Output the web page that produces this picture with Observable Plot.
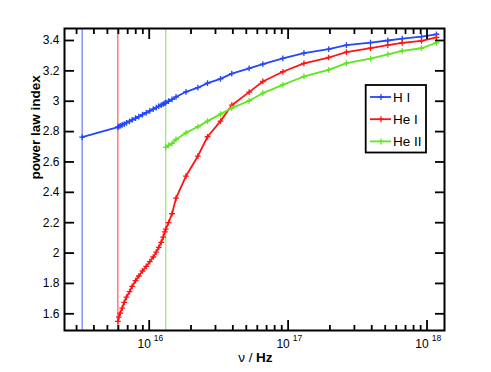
<!DOCTYPE html>
<html><head><meta charset="utf-8">
<script src="https://cdn.jsdelivr.net/npm/d3@7"></script>
<script src="https://cdn.jsdelivr.net/npm/@observablehq/plot@0.6"></script>
<style>body{margin:0;background:#fff;} #chart{width:491px;height:372px;}</style>
</head><body><div id="chart"></div>
<script>
const seriesNames = ["H I", "He I", "He II"];
const seriesColors = ["#2346ff", "#ff1414", "#5ee61e"];
const edgeFreq = [3.29e15, 5.95e15, 1.316e16];

const hiFreq = [3.29e15, 5.95e15, 6.04e15, 6.18e15, 6.39e15, 6.61e15, 6.86e15, 7.22e15, 7.54e15, 7.97e15, 8.42e15,
  8.95e15, 9.52e15, 1.01e16, 1.069e16, 1.123e16, 1.172e16, 1.22e16, 1.261e16, 1.295e16, 1.316e16, 1.377e16,
  1.46e16, 1.56e16, 1.84e16, 2.24e16, 2.63e16, 3.26e16, 3.93e16, 5.24e16, 6.58e16, 9.16e16, 1.30e17, 1.96e17,
  2.63e17, 3.92e17, 5.22e17, 6.63e17, 9.12e17, 1.17e18];
const hiIndex = [2.764, 2.829, 2.832, 2.837, 2.844, 2.850, 2.858, 2.868, 2.877, 2.888, 2.899,
  2.912, 2.924, 2.936, 2.948, 2.958, 2.967, 2.975, 2.981, 2.987, 2.990, 3.000,
  3.012, 3.028, 3.062, 3.089, 3.119, 3.147, 3.182, 3.217, 3.245, 3.282, 3.317, 3.343,
  3.369, 3.386, 3.400, 3.412, 3.426, 3.441];

const heiFreq = [5.95e15, 6.04e15, 6.18e15, 6.39e15, 6.61e15, 6.86e15, 7.22e15, 7.54e15, 7.97e15, 8.42e15,
  8.95e15, 9.52e15, 1.01e16, 1.069e16, 1.123e16, 1.172e16, 1.22e16, 1.261e16, 1.295e16, 1.316e16, 1.377e16,
  1.46e16, 1.56e16, 1.84e16, 2.24e16, 2.63e16, 3.26e16, 3.93e16, 5.24e16, 6.58e16, 9.16e16, 1.30e17, 1.96e17,
  2.63e17, 3.92e17, 5.22e17, 6.63e17, 9.12e17, 1.17e18];
const heiIndex = [1.550, 1.578, 1.605, 1.638, 1.675, 1.710, 1.746, 1.781, 1.818, 1.849,
  1.882, 1.912, 1.943, 1.974, 2.006, 2.037, 2.070, 2.105, 2.140, 2.158, 2.200,
  2.259, 2.362, 2.507, 2.638, 2.766, 2.869, 2.974, 3.060, 3.130, 3.194, 3.249, 3.288,
  3.323, 3.350, 3.369, 3.385, 3.398, 3.420];

const heiiFreq = [1.316e16, 1.377e16, 1.46e16, 1.56e16, 1.84e16, 2.24e16, 2.63e16, 3.26e16, 3.93e16, 5.24e16,
  6.58e16, 9.16e16, 1.30e17, 1.96e17, 2.63e17, 3.92e17, 5.22e17, 6.63e17, 9.12e17, 1.17e18];
const heiiIndex = [2.696, 2.709, 2.722, 2.748, 2.792, 2.832, 2.869, 2.915, 2.955, 3.003,
  3.053, 3.108, 3.163, 3.207, 3.251, 3.280, 3.308, 3.332, 3.349, 3.385];

const xMajorTicks = [1e16, 1e17, 1e18];
const xMinorTicks = [3e15, 4e15, 5e15, 6e15, 7e15, 8e15, 9e15, 2e16, 3e16, 4e16, 5e16, 6e16, 7e16, 8e16, 9e16,
  2e17, 3e17, 4e17, 5e17, 6e17, 7e17, 8e17, 9e17];
const yTicks = [1.6, 1.8, 2.0, 2.2, 2.4, 2.6, 2.8, 3.0, 3.2, 3.4];

const series = [
  {name: seriesNames[0], color: seriesColors[0], freq: hiFreq, idx: hiIndex},
  {name: seriesNames[1], color: seriesColors[1], freq: heiFreq, idx: heiIndex},
  {name: seriesNames[2], color: seriesColors[2], freq: heiiFreq, idx: heiiIndex}
];
const rows = series.map(s => s.freq.map((f, i) => ({f, v: s.idx[i], name: s.name, color: s.color})));
const edges = edgeFreq.map((f, i) => ({f, color: seriesColors[i]}));

const font = "'Liberation Sans', Arial, Helvetica, sans-serif";
const marks = [
  Plot.ruleX(edges, {x: "f", stroke: "color", strokeWidth: 1, strokeOpacity: 0.85}),
  ...rows.map(r => Plot.line(r, {x: "f", y: "v", stroke: "color", strokeWidth: 1.8})),
  ...rows.map(r => Plot.dot(r, {x: "f", y: "v", stroke: "color", symbol: "plus", r: 2, strokeWidth: 1.3})),
  Plot.frame({stroke: "black", strokeWidth: 2}),
  // inward ticks
  Plot.axisX({anchor: "bottom", ticks: xMajorTicks, tickSize: -10, fill: "none", stroke: "black", strokeWidth: 1.8}),
  Plot.axisX({anchor: "bottom", ticks: xMinorTicks, tickSize: -5, fill: "none", stroke: "black", strokeWidth: 1.8}),
  Plot.axisX({anchor: "top", ticks: xMajorTicks, tickSize: -10, fill: "none", stroke: "black", strokeWidth: 1.8}),
  Plot.axisX({anchor: "top", ticks: xMinorTicks, tickSize: -5, fill: "none", stroke: "black", strokeWidth: 1.8}),
  Plot.axisY({anchor: "left", ticks: yTicks, tickSize: -10, fill: "none", stroke: "black", strokeWidth: 1.8}),
  Plot.axisY({anchor: "right", ticks: yTicks, tickSize: -10, fill: "none", stroke: "black", strokeWidth: 1.8}),
  Plot.axisY({anchor: "left", ticks: yTicks, tickSize: 0, tickPadding: 5, label: null, fontSize: 12,
    tickFormat: d => String(+d.toFixed(1))}),
  // x tick labels 10^n
  Plot.text(xMajorTicks, {x: d => d, frameAnchor: "bottom", text: () => "10", dx: -5, dy: 17.5, fontSize: 12}),
  Plot.text(xMajorTicks, {x: d => d, frameAnchor: "bottom", text: d => String(Math.round(Math.log10(d))), dx: 9.4, dy: 10.5, fontSize: 8.5}),
  // axis titles
  Plot.text(["ν /"], {frameAnchor: "bottom", text: d => d, textAnchor: "end", dx: -2, dy: 31, fontSize: 13.5}),
  Plot.text(["Hz"], {frameAnchor: "bottom", text: d => d, textAnchor: "start", dx: 1.6, dy: 31, fontSize: 13.5, fontWeight: "bold"}),
  Plot.text(["power law index"], {frameAnchor: "left", text: d => d, rotate: -90, dx: -29, fontSize: 13.5, fontWeight: "bold"})
];

const svg = Plot.plot({
  width: 491, height: 372,
  marginLeft: 64, marginRight: 47, marginTop: 28, marginBottom: 42,
  style: {fontFamily: font, fontSize: "12px", color: "black", background: "white"},
  x: {type: "log", domain: [2.456e15, 1.336e18]},
  y: {domain: [1.49, 3.479]},
  marks
});
document.getElementById("chart").appendChild(svg);

// legend box
const g = d3.select(svg).append("g").attr("font-family", font).attr("font-size", 13.5)
  .attr("text-anchor", "start");
g.append("rect").attr("x", 365.7).attr("y", 85).attr("width", 60.3).attr("height", 67.5)
  .attr("fill", "white").attr("stroke", "black").attr("stroke-width", 1.8);
series.forEach((s, i) => {
  const y = 97 + i * 22.2;
  g.append("line").attr("x1", 370).attr("x2", 391).attr("y1", y).attr("y2", y)
    .attr("stroke", s.color).attr("stroke-width", 1.8);
  g.append("path").attr("d", `M378,${y}h6M381,${y - 3}v6`).attr("stroke", s.color).attr("stroke-width", 1.3);
  g.append("text").attr("x", 393).attr("y", y).attr("dy", "0.36em").attr("fill", "black")
    .style("text-anchor", "start").text(s.name);
});
</script></body></html>
